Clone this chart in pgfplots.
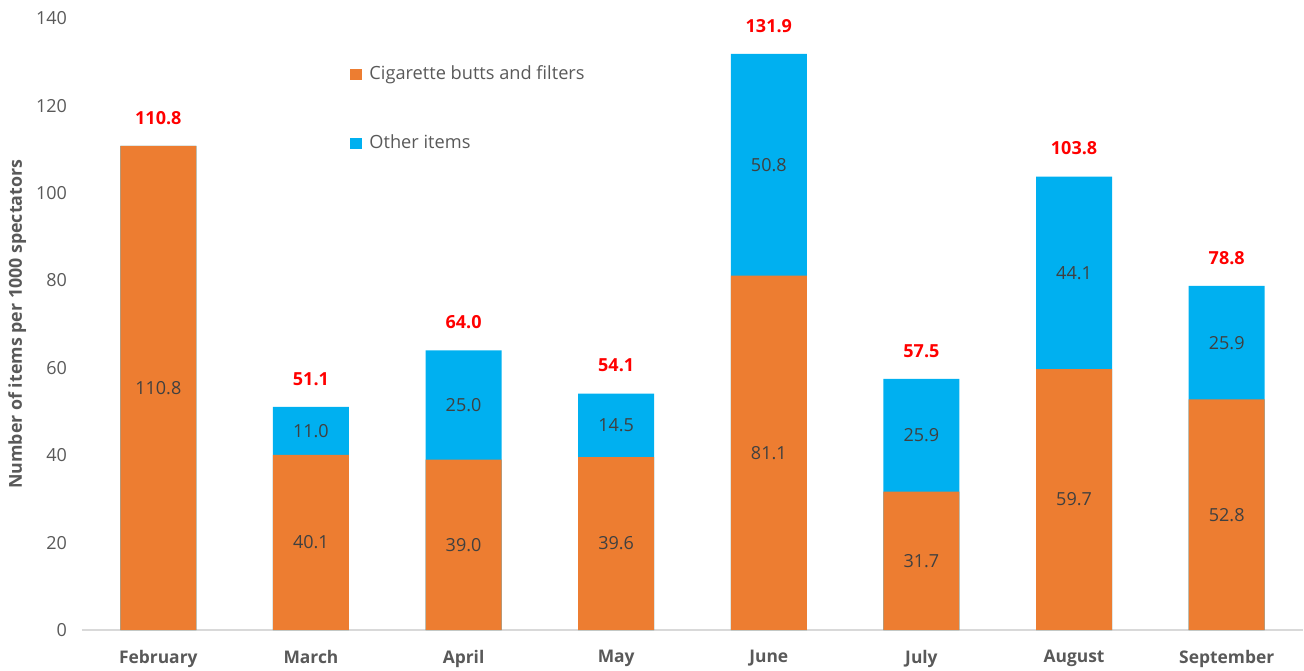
\documentclass[border=0pt]{standalone}
\usepackage{pgfplots}
\pgfplotsset{compat=1.18}
\usepackage{pgfplotstable}
\usepackage{fontspec}
\setmainfont{Open Sans}
\definecolor{corange}{HTML}{ED7D31}
\definecolor{cblue}{HTML}{00B0F0}
\definecolor{ctext}{HTML}{595959}
\definecolor{clabel}{HTML}{404040}
\definecolor{cred}{HTML}{FF0000}
\definecolor{caxis}{HTML}{D9D9D9}

\pgfplotstableread{
x orange blue total
0 110.8 0.0  110.8
1 40.1  11.0 51.1
2 39.0  25.0 64.0
3 39.6  14.5 54.1
4 81.1  50.8 131.9
5 31.7  25.9 57.5
6 59.7  44.1 103.8
7 52.8  25.9 78.8
}\data

% label positions (middle of each segment) and texts
\pgfplotstableread{
x y lab
0 55.4 110.8
1 20.05 40.1
2 19.5 39.0
3 19.8 39.6
4 40.55 81.1
5 15.85 31.7
6 29.85 59.7
7 26.4 52.8
}\orangelabels

\pgfplotstableread{
x y lab
1 45.6 11.0
2 51.5 25.0
3 46.85 14.5
4 106.5 50.8
5 44.6 25.9
6 81.75 44.1
7 65.75 25.9
}\bluelabels

\pgfplotstableread{
x y lab
0 110.8 110.8
1 51.1 51.1
2 64.0 64.0
3 54.1 54.1
4 131.9 131.9
5 57.5 57.5
6 103.8 103.8
7 78.8 78.8
}\totallabels

\begin{document}
\begin{tikzpicture}
\path[use as bounding box] (-41pt,-20pt) rectangle (611pt,315pt);
\begin{axis}[
  at={(0pt,0pt)}, anchor=south west,
  scale only axis, width=610.5pt, height=305.8pt,
  xmin=-0.5, xmax=7.5, ymin=0, ymax=140,
  clip=false,
  axis lines*=left,
  y axis line style={draw=none},
  x axis line style={draw=caxis, line width=0.75pt},
  major tick length=0pt,
  xtick={0,...,7},
  xticklabels={February,March,April,May,June,July,August,September},
  xticklabel style={font=\fontsize{8.7}{10}\selectfont\bfseries, text=ctext, yshift=-6.5pt},
  ytick={0,20,...,140},
  yticklabel style={font=\fontsize{9}{10.5}\selectfont, text=ctext, xshift=-4pt},
  /pgf/number format/assume math mode=true,
  ylabel={Number of items per 1000 spectators},
  every axis y label/.style={at={(axis description cs:-0.053,0.5)}, rotate=90, anchor=center,
    font=\fontsize{8.9}{10}\selectfont\bfseries, text=ctext},
  legend style={at={(axis cs:1.255,130.1)}, anchor=north west, draw=none, fill=none,
    font=\fontsize{9.1}{10.5}\selectfont, text=ctext, row sep=22pt, inner sep=0pt},
  legend cell align=left,
]
\addlegendimage{legend image code/.code={\fill[corange] (0pt,-2.6pt) rectangle (5.2pt,2.6pt); \path (7.2pt,0pt);}}
\addlegendentry{Cigarette butts and filters}
\addlegendimage{legend image code/.code={\fill[cblue] (0pt,-2.6pt) rectangle (5.2pt,2.6pt); \path (7.2pt,0pt);}}
\addlegendentry{Other items}

\addplot[ybar, bar width=38pt, bar shift=0pt, fill=cblue, draw=none, forget plot] table[x=x, y=total] {\data};
\addplot[ybar, bar width=38pt, bar shift=0pt, fill=corange, draw=none, forget plot] table[x=x, y=orange] {\data};

\addplot[draw=none, mark=none, forget plot, nodes near coords, point meta=explicit symbolic,
  every node near coord/.append style={anchor=center, font=\fontsize{9}{10.5}\selectfont, text=clabel}]
  table[x=x, y=y, meta=lab] {\orangelabels};
\addplot[draw=none, mark=none, forget plot, nodes near coords, point meta=explicit symbolic,
  every node near coord/.append style={anchor=center, font=\fontsize{9}{10.5}\selectfont, text=clabel}]
  table[x=x, y=y, meta=lab] {\bluelabels};
\addplot[draw=none, mark=none, forget plot, nodes near coords, point meta=explicit symbolic,
  every node near coord/.append style={anchor=center, yshift=14pt, font=\fontsize{9}{10.5}\selectfont\bfseries, text=cred}]
  table[x=x, y=y, meta=lab] {\totallabels};
\end{axis}
\end{tikzpicture}
\end{document}
